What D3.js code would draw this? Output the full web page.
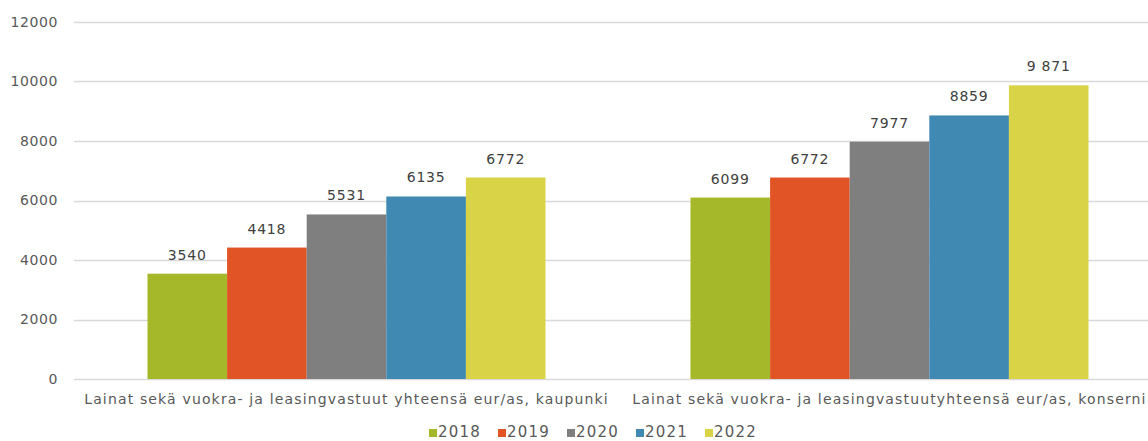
<!DOCTYPE html>
<html>
<head>
<meta charset="utf-8">
<script src="https://cdn.jsdelivr.net/npm/d3@7"></script>
<style>
  body { margin: 0; background: #fff; }
  svg { font-family: "DejaVu Sans", sans-serif; display: block; }
</style>
</head>
<body>
<div class="chart"></div>
<script>
// chart data
var categories = [
    "Lainat sekä vuokra- ja leasingvastuut yhteensä eur/as, kaupunki",
    "Lainat sekä vuokra- ja leasingvastuutyhteensä eur/as, konserni"
];
var years = ["2018", "2019", "2020", "2021", "2022"];
var kaupunki = [3540, 4418, 5531, 6135, 6772];
var konserni = [6099, 6772, 7977, 8859, 9871];
var valueLabels = [
    ["3540", "4418", "5531", "6135", "6772"],
    ["6099", "6772", "7977", "8859", "9 871"]
];
var yTicks = [0, 2000, 4000, 6000, 8000, 10000, 12000];
var colors = ["#a5b82a", "#e05426", "#7f7f80", "#3f89b3", "#d9d347"];

var svgW = 1148;
var svgH = 441;
var margin = {top: 22, right: -13, bottom: 62, left: 75};
var chartW = svgW - margin.left - margin.right;
var chartH = svgH - margin.top - margin.bottom;

var series = [kaupunki, konserni];
var data = categories.map(function(c, i) {
    return {cat: c, idx: i, values: years.map(function(y, j) {
        return {year: y, value: series[i][j], label: valueLabels[i][j], j: j};
    })};
});

var svg = d3.select(".chart")
    .append("svg")
    .attr("width", svgW)
    .attr("height", svgH);
var chart = svg.append("g")
    .attr("transform", "translate(" + margin.left + "," + margin.top + ")");

var x0 = d3.scaleBand()
    .domain(categories)
    .range([0, chartW])
    .paddingInner(0.267)
    .paddingOuter(0.1335);
var x1 = d3.scaleBand()
    .domain(years)
    .range([0, x0.bandwidth()]);
var y = d3.scaleLinear()
    .domain([0, 12000])
    .range([chartH, 0]);

// gridlines
chart.append("g")
    .selectAll("line")
    .data(yTicks)
    .enter().append("line")
    .attr("x1", -1)
    .attr("x2", chartW)
    .attr("y1", function(d) { return Math.round(y(d)) + 0.5; })
    .attr("y2", function(d) { return Math.round(y(d)) + 0.5; })
    .attr("stroke", "#d9d9d9")
    .attr("stroke-width", 1.3);

// y axis labels
var yaxis = d3.axisLeft(y).tickValues(yTicks).tickSize(0).tickPadding(17)
    .tickFormat(d3.format("d"));
var yg = chart.append("g").call(yaxis);
yg.select(".domain").remove();
yg.selectAll("text")
    .attr("fill", "#595959")
    .attr("font-size", 14)
    .attr("letter-spacing", 0.6)
    .attr("font-family", "DejaVu Sans, sans-serif");

// bars
var groups = chart.selectAll(".grp")
    .data(data)
    .enter().append("g")
    .attr("class", "grp")
    .attr("transform", function(d) { return "translate(" + x0(d.cat) + ",0)"; });

groups.selectAll("rect")
    .data(function(d) { return d.values; })
    .enter().append("rect")
    .attr("x", function(d) { return x1(d.year); })
    .attr("width", x1.bandwidth())
    .attr("y", function(d) { return y(d.value); })
    .attr("height", function(d) { return chartH - y(d.value); })
    .attr("fill", function(d) { return colors[d.j]; });

groups.selectAll(".val")
    .data(function(d) { return d.values; })
    .enter().append("text")
    .attr("class", "val")
    .attr("x", function(d) { return x1(d.year) + x1.bandwidth() / 2; })
    .attr("y", function(d) { return y(d.value) - 14; })
    .attr("text-anchor", "middle")
    .attr("font-size", 14)
    .attr("letter-spacing", 0.8)
    .attr("fill", "#404040")
    .text(function(d) { return d.label; });

// category labels
chart.append("g")
    .selectAll("text")
    .data(categories)
    .enter().append("text")
    .attr("x", function(d) { return x0(d) + x0.bandwidth() / 2; })
    .attr("y", chartH + 25)
    .attr("text-anchor", "middle")
    .attr("font-size", 14)
    .attr("letter-spacing", 1.15)
    .attr("fill", "#595959")
    .text(function(d) { return d; });

// legend
var legend = svg.append("g")
    .attr("transform", "translate(429,437)");
var item = legend.selectAll("g")
    .data(years)
    .enter().append("g")
    .attr("transform", function(d, i) { return "translate(" + (i * 69) + ",0)"; });
item.append("rect")
    .attr("x", 0)
    .attr("y", -8)
    .attr("width", 8)
    .attr("height", 8)
    .attr("fill", function(d, i) { return colors[i]; });
item.append("text")
    .attr("x", 9)
    .attr("y", 0)
    .attr("font-size", 15)
    .attr("letter-spacing", 1.2)
    .attr("fill", "#595959")
    .text(function(d) { return d; });
</script>
</body>
</html>
